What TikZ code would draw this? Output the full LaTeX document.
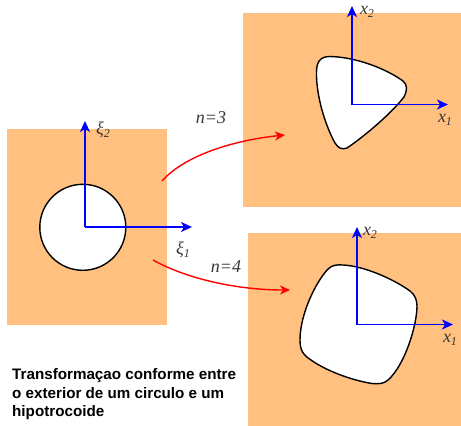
\documentclass[tikz,border=0pt]{standalone}
\usepackage{fontspec}
\setmainfont{Liberation Serif}
\newfontfamily\capfont{Liberation Sans}
\usetikzlibrary{arrows.meta}
\definecolor{plate}{RGB}{255,192,128}
\definecolor{labelgray}{RGB}{55,55,55}
\tikzset{
  platebox/.style={fill=plate,draw=none},
  hole/.style={fill=white,draw=black,line width=1.4pt},
  axis/.style={draw={rgb,255:red,0;green,0;blue,255},line width=1.8pt,-{Stealth[length=11pt,width=10pt,inset=3pt]}},
  map/.style={draw=red,line width=1.4pt,-{Stealth[length=10pt,width=9pt,inset=3pt]}},
  lab/.style={text=labelgray,font=\itshape\fontsize{18}{18}\selectfont,inner sep=0pt},
  caption/.style={align=left,anchor=north west,inner sep=0pt,font=\capfont\bfseries\fontsize{15.2}{18.3}\selectfont,text=black}
}
\newcommand{\subl}[1]{\raisebox{-3pt}{\fontsize{12}{12}\selectfont #1}}
\begin{document}
\begin{tikzpicture}[x=1pt,y=-1pt]
\useasboundingbox (0,0) rectangle (461,426);
\fill[white] (0,0) rectangle (461,426);
% plates
\node[platebox,minimum width=160pt,minimum height=196pt,inner sep=0pt] (left) at (87,227) {};
\node[platebox,minimum width=218pt,minimum height=194pt,inner sep=0pt] (topr) at (352,109.5) {};
\node[platebox,minimum width=213pt,minimum height=193pt,inner sep=0pt] (botr) at (354.5,329.5) {};
% holes
\node[hole,circle,minimum size=86pt,inner sep=0pt] (disc) at (82.8,227.3) {};
\draw[hole] (316.5,72) .. controls (316.5,62) and (320,56.5) .. (330,56.5)
 .. controls (355,57) and (385,68) .. (403,81)
 .. controls (408,85) and (407,91) .. (404,97)
 .. controls (390,115) and (362,138) .. (347,148)
 .. controls (342,150) and (338,148) .. (335,143)
 .. controls (325,125) and (316,95) .. (316.5,72) -- cycle;
\draw[hole] (328,269) .. controls (332,265) and (337,264.5) .. (343,265)
 .. controls (365,266) and (395,280) .. (410,291)
 .. controls (415,295) and (417,300) .. (417,306)
 .. controls (417,325) and (405,365) .. (388,380)
 .. controls (384,384) and (378,384) .. (372,383.5)
 .. controls (350,380) and (325,370) .. (311,360)
 .. controls (303,355) and (300,350) .. (300,340)
 .. controls (300,315) and (315,283) .. (328,269) -- cycle;
% axes
\coordinate (o1) at (85,227);
\coordinate (a1x) at (192,227);
\coordinate (a1y) at (85,121);
\coordinate (o2) at (352,104.5);
\coordinate (a2x) at (448,104.5);
\coordinate (a2y) at (352,6);
\coordinate (o3) at (357,324.5);
\coordinate (a3x) at (453,324.5);
\coordinate (a3y) at (357,227);
\draw[axis] (o1) -- (a1x);
\draw[axis] (o1) -- (a1y);
\draw[axis] (o2) -- (a2x);
\draw[axis] (o2) -- (a2y);
\draw[axis] (o3) -- (a3x);
\draw[axis] (o3) -- (a3y);
% maps
\coordinate (m1s) at (162,181);
\coordinate (m1e) at (285,135);
\coordinate (m2s) at (153,260);
\coordinate (m2e) at (290,290);
\draw[map] (m1s) .. controls (185,155) and (235,140) .. (m1e);
\draw[map] (m2s) .. controls (185,278) and (235,290) .. (m2e);
% labels
\node[lab] (n3) at (211,118) {n=3};
\node[lab] (n4) at (226,267) {n=4};
\node[lab] (xi2) at (103,130) {ξ\subl{2}};
\node[lab] (xi1) at (183,250) {ξ\subl{1}};
\node[lab] (x12) at (367,12) {x\subl{2}};
\node[lab] (x11) at (445,120) {x\subl{1}};
\node[lab] (x22) at (370,233) {x\subl{2}};
\node[lab] (x21) at (450,340) {x\subl{1}};
\node[caption] (cap) at (12,368.5) {Transformaçao conforme entre\\o exterior de um circulo e um\\hipotrocoide};
\end{tikzpicture}
\end{document}
